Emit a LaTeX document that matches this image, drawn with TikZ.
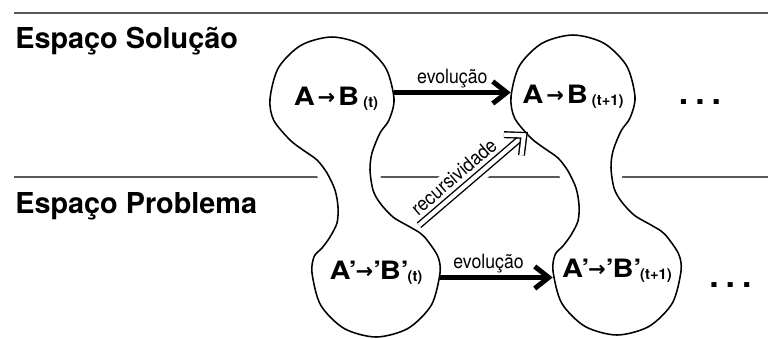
\documentclass[tikz,border=0pt]{standalone}
\usepackage{fontspec}
\usepackage{graphicx}
\setmainfont{TeX Gyre Heros}
\newfontfamily\termfont[FakeStretch=1.15]{TeX Gyre Heros}
\newfontfamily\hintfont[FakeStretch=0.9]{TeX Gyre Heros}
\newfontfamily\arrowfont{DejaVu Sans}
\usetikzlibrary{positioning,arrows.meta}
\newcommand{\instante}[1]{\raisebox{-1.5pt}{\normalfont\bfseries\fontsize{10.5}{12}\selectfont #1}}
\newcommand{\seta}{\raisebox{1pt}{\arrowfont\bfseries\fontsize{15}{16}\selectfont →}}
\newcommand{\linha}{’\kern-1pt}

\tikzset{
  outline/.style ={draw=black,line width=1.1pt,fill=white,
                   preaction={draw=white,line width=0.5cm}},
  % two bulbs joined by a narrow waist
  bubble/.pic={
    \node[circle,minimum size=3.1cm,inner sep=0pt] (-top) at (0,0) {};
    \node[circle,minimum size=3.2cm,inner sep=0pt] (-bot) at (1.1,-4.35) {};
    \draw[outline] plot[smooth cycle] coordinates {
      (1.425,-0.525) (1.55,0) (1.343,0.775) (0.775,1.343) (0,1.55)
      (-0.775,1.343) (-1.343,0.775) (-1.55,0) (-1.458,-0.530)
      (-1.05,-1.025) (-0.725,-1.275) (-0.375,-1.525) (-0.125,-1.85)
      (0.075,-2.275) (0.15,-2.7) (0.125,-3.1) (-0.05,-3.45) (-0.25,-3.725)
      (-0.445,-3.935) (-0.5,-4.35) (-0.285,-5.15) (0.3,-5.735) (1.1,-5.95)
      (1.9,-5.735) (2.485,-5.15) (2.7,-4.35) (2.645,-3.935) (2.375,-3.525)
      (2.2,-3.35) (1.95,-3.2) (1.525,-2.95) (1.2,-2.6) (1.025,-2.275)
      (0.95,-1.775) (1.0,-1.35) (1.2,-0.85)};
  }
}

\begin{document}
\begin{tikzpicture}[
  heading/.style ={font=\bfseries\fontsize{20.5}{24}\selectfont,
                   anchor=base west,inner sep=0pt},
  term/.style    ={font=\termfont\bfseries\fontsize{18}{20}\selectfont,inner sep=0pt},
  more/.style    ={font=\bfseries\fontsize{24}{28}\selectfont,anchor=base,inner sep=0pt},
  hint/.style    ={font=\hintfont\fontsize{14}{16}\selectfont,inner sep=1.5pt},
  divider/.style ={draw=black!65,line width=1.4pt},
  evol/.style    ={line width=3.5pt,-{Straight Barb[length=3.5mm,width=5.5mm]}},
  recur/.style   ={double,double distance=3pt,line width=1pt},
  recurtip/.style={recur,line join=miter,miter limit=10}]

\useasboundingbox (0,0) rectangle (19.2,8.45);

% --- the two spaces ---
\draw[divider] (0.35,8.125) -- (19.2,8.125);
\draw[divider] (0.35,4.025) -- (19.2,4.025);
\node[heading] (solucao)  at (0.375,7.25)  {Espaço Solução};
\node[heading] (problema) at (0.375,3.125) {Espaço Problema};

% --- state at t and at t+1 ---
\pic (step0) at (8.30,5.975)  {bubble};
\pic (step1) at (14.325,6.025) {bubble};

\node[term,xshift=1mm] (s-t)  at (step0-top) {A\kern2pt\seta\kern2pt B\,\instante{(t)}};
\node[term] (s-t1) at (step1-top) {A\kern2pt\seta\kern2pt B\,\instante{(t+1)}};
\node[term] (p-t)  at (step0-bot) {A\linha\seta\linha B\linha\instante{(t)}};
\node[term] (p-t1) at (step1-bot) {A\linha\seta\linha B\linha\instante{(t+1)}};

\node[more] (more-s) at (17.5,5.85)  {.\hspace{5pt}.\hspace{5pt}.};
\node[more] (more-p) at (18.26,1.275) {.\hspace{5pt}.\hspace{5pt}.};

% --- arrows ---
\draw[evol] (step0-top.6) -- node[hint,above,midway] (evo-s) {evolução}
  (step0-top.6 -| step1-top.west);
\draw[evol] (step0-bot.-4) -- node[hint,above,pos=0.43] (evo-p) {evolução}
  (step0-bot.-4 -| step1-bot.west);

% hollow double arrow, white gap where it crosses the divider
\draw[draw=white,line width=12pt,shorten <=5mm,shorten >=5mm]
  (step0-bot.48) -- (step1-top.218);
\draw[recur,shorten >=1.5mm] (step0-bot.48)
  -- node[hint,sloped,above=3pt,pos=0.42,fill=white] (rec) {recursividade}
  (step1-top.218);
\draw[recurtip] (step1-top.218) ++(178:5mm) -- (step1-top.218) -- ++(263:5mm);

\end{tikzpicture}
\end{document}
